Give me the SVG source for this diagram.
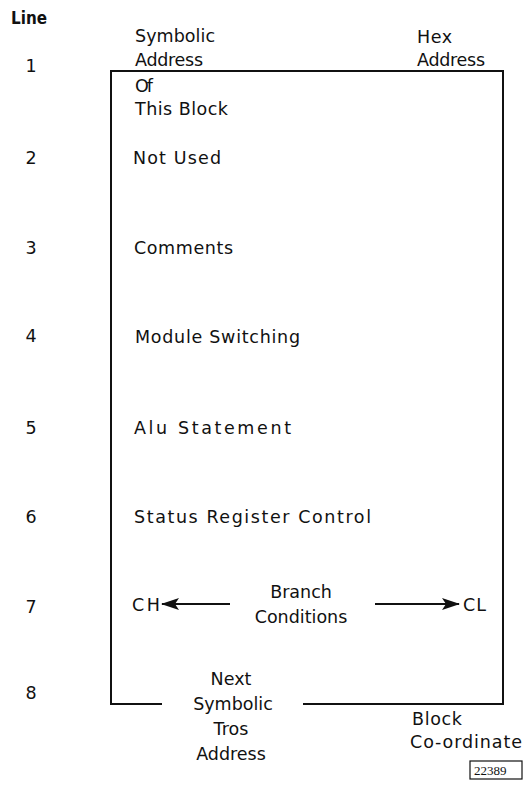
<svg xmlns="http://www.w3.org/2000/svg" width="528" height="792" viewBox="0 0 528 792">
<defs>
<style>
.t{font-family:"DejaVu Sans","Liberation Sans",sans-serif;font-size:17.5px;fill:#111}
.c{text-anchor:middle}
.b{font-weight:bold}
.ln{fill:none;stroke:#111;stroke-width:2}
.ar{fill:none;stroke:#111;stroke-width:2}
</style>
<marker id="ah" viewBox="0 0 18 12" refX="17" refY="6" markerWidth="18" markerHeight="12" markerUnits="userSpaceOnUse" orient="auto">
<path d="M0,0 L18,6 L0,12 L4,6 Z" fill="#111"/>
</marker>
</defs>
<rect width="528" height="792" fill="#fff"/>
<g id="line-numbers">
<text class="t b" x="11" y="24" textLength="36" lengthAdjust="spacingAndGlyphs">Line</text>
<text class="t c" x="31" y="72">1</text>
<text class="t c" x="31" y="164">2</text>
<text class="t c" x="31" y="254">3</text>
<text class="t c" x="31" y="342">4</text>
<text class="t c" x="31" y="434">5</text>
<text class="t c" x="31" y="523">6</text>
<text class="t c" x="31" y="613">7</text>
<text class="t c" x="31" y="699">8</text>
</g>
<g id="block">
<path class="ln" d="M162,704 H111 V71 H503 V704 H303"/>
</g>
<g id="header">
<text class="t" x="135" y="42" textLength="80" lengthAdjust="spacing">Symbolic</text>
<text class="t" x="135" y="66" textLength="68" lengthAdjust="spacing">Address</text>
<text class="t" x="417" y="43" textLength="35" lengthAdjust="spacing">Hex</text>
<text class="t" x="417" y="66" textLength="68" lengthAdjust="spacing">Address</text>
</g>
<g id="fields">
<text class="t" x="135" y="92" textLength="18" lengthAdjust="spacing">Of</text>
<text class="t" x="135" y="115" textLength="93" lengthAdjust="spacing">This Block</text>
<text class="t" x="133" y="164" textLength="88" lengthAdjust="spacing">Not Used</text>
<text class="t" x="134" y="254" textLength="99" lengthAdjust="spacing">Comments</text>
<text class="t" x="135" y="343" textLength="165" lengthAdjust="spacing">Module Switching</text>
<text class="t" x="134" y="434" textLength="157" lengthAdjust="spacing">Alu Statement</text>
<text class="t" x="134" y="523" textLength="237" lengthAdjust="spacing">Status Register Control</text>
</g>
<g id="branch">
<text class="t" x="132" y="611" textLength="28" lengthAdjust="spacing">CH</text>
<text class="t c" x="301" y="598">Branch</text>
<text class="t c" x="301" y="623">Conditions</text>
<text class="t" x="463" y="611" textLength="23" lengthAdjust="spacing">CL</text>
</g>
<g id="connectors">
<line class="ar" x1="230" y1="604" x2="162" y2="604" marker-end="url(#ah)"/>
<line class="ar" x1="375" y1="604" x2="459" y2="604" marker-end="url(#ah)"/>
</g>
<g id="next-address">
<text class="t c" x="231" y="685">Next</text>
<text class="t c" x="233" y="710">Symbolic</text>
<text class="t c" x="231" y="735">Tros</text>
<text class="t c" x="231" y="760">Address</text>
</g>
<g id="coordinate">
<text class="t" x="412" y="725" textLength="50" lengthAdjust="spacing">Block</text>
<text class="t" x="410" y="748" textLength="112" lengthAdjust="spacing">Co-ordinate</text>
</g>
<g id="figure-number">
<rect x="470" y="761" width="52" height="18" fill="none" stroke="#111" stroke-width="1.2"/>
<text x="474" y="775" style="font-family:'Liberation Serif',serif;font-size:13px;fill:#111">22389</text>
</g>
</svg>
